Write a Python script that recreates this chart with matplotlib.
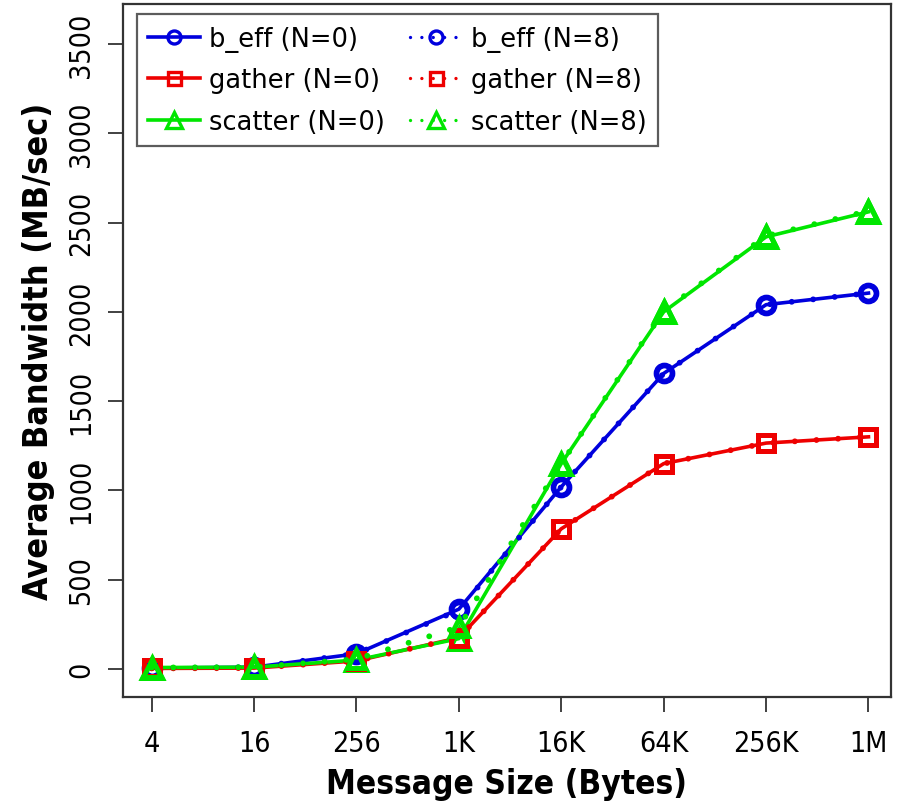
import matplotlib
matplotlib.use("Agg")
import matplotlib.pyplot as plt
from matplotlib.lines import Line2D
from matplotlib import font_manager

# ---- data ----
sizes = ["4", "16", "256", "1K", "16K", "64K", "256K", "1M"]
beff_n0 = [5, 10, 85, 335, 1020, 1655, 2040, 2105]
beff_n8 = [5, 10, 85, 330, 1020, 1655, 2040, 2105]
gather_n0 = [3, 5, 45, 175, 785, 1150, 1265, 1300]
gather_n8 = [3, 5, 45, 175, 785, 1150, 1265, 1300]
scatter_n0 = [8, 10, 50, 170, 1150, 2000, 2420, 2560]
scatter_n8 = [8, 10, 55, 235, 1150, 2005, 2425, 2565]
yticks = [0, 500, 1000, 1500, 2000, 2500, 3000, 3500]

blue = "#0000DD"
red = "#EE0000"
green = "#00E600"

plt.rcParams["font.family"] = ["DejaVu Sans"]
have_cond = any("Condensed" in f.name or f.stretch in ("condensed", 600 - 100) or
                (isinstance(f.stretch, str) and "condensed" in f.stretch)
                for f in font_manager.fontManager.ttflist if f.name.startswith("DejaVu Sans"))
stretch = "condensed" if have_cond else "normal"

fig = plt.figure(figsize=(9.07, 8.03), dpi=100)
ax = fig.add_axes([123 / 907, 1 - 698 / 803, (891 - 123) / 907, (698 - 5) / 803])

x = list(range(len(sizes)))
lw = 2.6
dotlw = 4.2
dotstyle = (0, (0.01, 3.7))

series = [
    ("b_eff", beff_n0, beff_n8, blue, "o", 12),
    ("gather", gather_n0, gather_n8, red, "s", 12),
    ("scatter", scatter_n0, scatter_n8, green, "^", 14),
]

h0, h8 = [], []
for name, v0, v8, c, m, ms in series:
    ax.plot(x, v0, color=c, lw=lw, marker=m, ms=ms, mfc="none", mec=c, mew=3.6, zorder=3)
    ax.plot(x, v8, color=c, lw=dotlw, linestyle=dotstyle, dash_capstyle="round", zorder=4)
    ax.plot(x, v8, color=c, lw=0, marker=m, ms=ms - 1, mfc="none", mec=c, mew=3.6, zorder=4)
    h0.append(Line2D([], [], color=c, lw=lw, marker=m, ms=ms * 0.78, mfc="none", mec=c, mew=2.4,
                     label=f"{name} (N=0)"))
    h8.append(Line2D([], [], color=c, lw=2.4, linestyle=(0, (0.01, 3.4)), dash_capstyle="round",
                     marker=m, ms=ms * 0.78, mfc="none", mec=c, mew=2.4, label=f"{name} (N=8)"))

ax.set_xlim(-0.28, 7.22)
ax.set_ylim(-157, 3724)
ax.set_xticks(x)
ax.set_xticklabels(sizes)
ax.set_yticks(yticks)
ax.set_yticklabels([str(t) for t in yticks], rotation=90, va="center")

for lab in ax.get_xticklabels() + ax.get_yticklabels():
    lab.set_fontsize(20.5)
    lab.set_fontstretch(stretch)
ax.tick_params(axis="x", direction="out", length=11, width=1.3, color="#333333", pad=12)
ax.tick_params(axis="y", direction="out", length=11, width=1.3, color="#333333", pad=9)

for s in ax.spines.values():
    s.set_linewidth(1.6)
    s.set_color("#333333")

ax.set_xlabel("Message Size (Bytes)", fontsize=24, fontweight="bold", fontstretch=stretch, labelpad=7)
ax.set_ylabel("Average Bandwidth (MB/sec)", fontsize=24.5, fontweight="bold", fontstretch=stretch, labelpad=9)

leg = ax.legend(handles=h0 + h8, ncol=2, loc="upper left", bbox_to_anchor=(0.018, 0.985),
                fontsize=18.5, frameon=True, fancybox=False, edgecolor="#333333",
                handlelength=2.0, handletextpad=0.35, columnspacing=1.0, labelspacing=0.6,
                borderpad=0.45, borderaxespad=0.0)
leg.get_frame().set_linewidth(1.6)

fig.savefig("out.png", dpi=100, facecolor="white")
